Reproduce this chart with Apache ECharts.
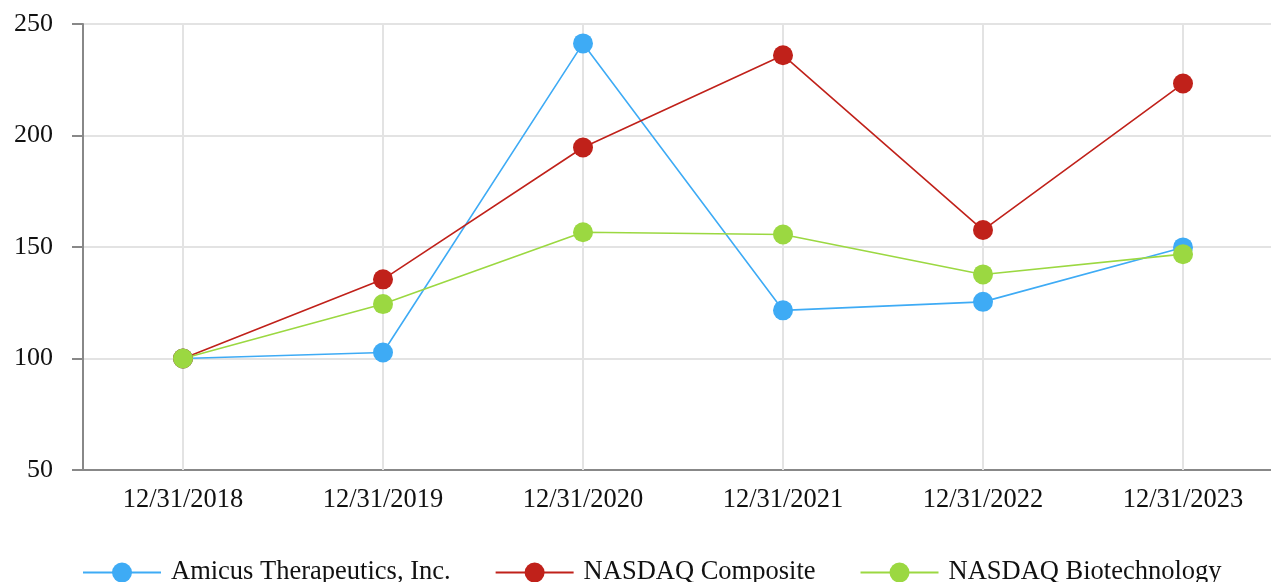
<!DOCTYPE html>
<html>
<head>
<meta charset="utf-8">
<script src="https://cdn.jsdelivr.net/npm/echarts@6/dist/echarts.min.js"></script>
<style>
  html, body { margin: 0; padding: 0; background: #fff; }
  #chart { width: 1271px; height: 582px; }
</style>
</head>
<body>
<div id="chart"></div>
<script>
const categories = ['12/31/2018', '12/31/2019', '12/31/2020', '12/31/2021', '12/31/2022', '12/31/2023'];
const amicus = [100, 102.7, 241.3, 121.6, 125.4, 149.8];
const nasdaqComposite = [100, 135.5, 194.6, 236.0, 157.6, 223.3];
const nasdaqBiotech = [100, 124.4, 156.6, 155.6, 137.7, 146.8];
const yTicks = { min: 50, max: 250, interval: 50 };

const fontFamily = '"Liberation Serif", "Times New Roman", serif';
const gridColor = '#e3e3e3';

const chart = echarts.init(document.getElementById('chart'));

const makeSeries = (name, data, color) => ({
  name: name,
  type: 'line',
  data: data,
  z: 3,
  symbol: 'circle',
  symbolSize: 20,
  lineStyle: { width: 1.6, color: color },
  itemStyle: { color: color },
  animation: false
});

chart.setOption({
  textStyle: { fontFamily: fontFamily },
  grid: {
    left: 83,
    top: 24,
    right: -12,
    height: 446,
    outerBoundsMode: 'none'
  },
  legend: {
    bottom: -9,
    left: 77,
    itemWidth: 78,
    itemHeight: 25,
    itemGap: 44,
    data: ['Amicus Therapeutics, Inc.', 'NASDAQ Composite', 'NASDAQ Biotechnology'],
    textStyle: { fontSize: 26.5, color: '#111', fontFamily: fontFamily, padding: [0, 0, 0, 5] }
  },
  xAxis: {
    type: 'category',
    data: categories,
    boundaryGap: true,
    axisLine: { lineStyle: { color: '#888', width: 2 } },
    axisTick: { alignWithLabel: true, length: 10, lineStyle: { color: '#888', width: 2 } },
    axisLabel: { color: '#111', fontSize: 26.5, margin: 17, fontFamily: fontFamily },
    splitLine: { show: false }
  },
  yAxis: {
    type: 'value',
    min: yTicks.min,
    max: yTicks.max,
    interval: yTicks.interval,
    axisLine: { show: true, lineStyle: { color: '#888', width: 2 } },
    axisTick: { show: true, length: 11, lineStyle: { color: '#888', width: 2 } },
    axisLabel: { color: '#111', fontSize: 26, margin: 30, fontFamily: fontFamily },
    splitLine: { lineStyle: { color: gridColor, width: 2 } }
  },
  series: [
    {
      // vertical grid lines at the category centres
      name: 'grid',
      type: 'line',
      data: [],
      z: 1,
      silent: true,
      markLine: {
        z: 1,
        silent: true,
        symbol: 'none',
        label: { show: false },
        animation: false,
        lineStyle: { color: gridColor, width: 2, type: 'solid' },
        data: categories.map(c => ({ xAxis: c }))
      }
    },
    makeSeries('Amicus Therapeutics, Inc.', amicus, '#3eabf5'),
    makeSeries('NASDAQ Composite', nasdaqComposite, '#c0211a'),
    makeSeries('NASDAQ Biotechnology', nasdaqBiotech, '#9bd841')
  ]
});
</script>
</body>
</html>
